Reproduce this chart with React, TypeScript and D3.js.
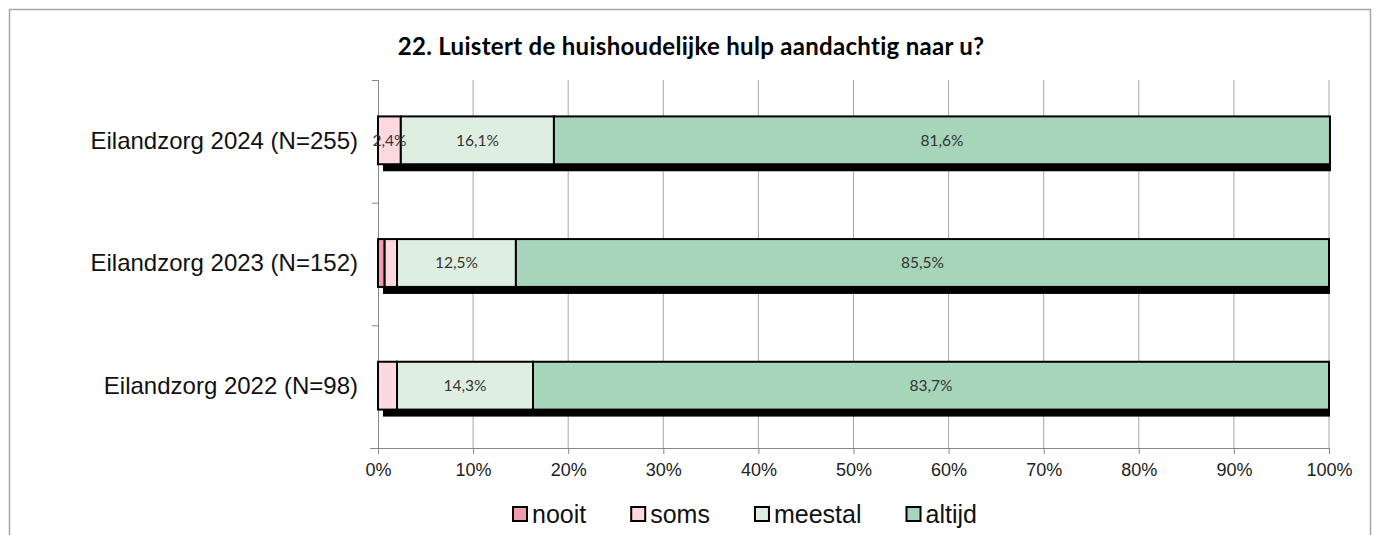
import * as d3 from "d3"
import { useEffect, useRef } from "react"

const categories = [
  "Eilandzorg 2024 (N=255)",
  "Eilandzorg 2023 (N=152)",
  "Eilandzorg 2022 (N=98)",
]
const seriesNames = ["nooit", "soms", "meestal", "altijd"]
const nooit = [0, 0.7, 0]
const soms = [2.4, 1.3, 2.0]
const meestal = [16.1, 12.5, 14.3]
const altijd = [81.6, 85.5, 83.7]
const tickValues = [0, 10, 20, 30, 40, 50, 60, 70, 80, 90, 100]
const colors = ["#F29BAE", "#FDD8DD", "#DEEFE2", "#A6D5B9"]

const W = 1377
const H = 535

const App: React.FC = () => {
  const svgRef = useRef<SVGSVGElement | null>(null)

  useEffect(() => {
    if (!svgRef.current) return
    const svg = d3.select(svgRef.current)
    svg.selectAll("*").remove()

    const calibri = "Lato, 'Open Sans', sans-serif"
    const arial = "'Liberation Sans', Arial, sans-serif"

    // chart frame
    svg
      .append("rect")
      .attr("x", 9.5)
      .attr("y", 9.5)
      .attr("width", 1361)
      .attr("height", 540)
      .attr("fill", "#fff")
      .attr("stroke", "#A6A6A6")
      .attr("stroke-width", 1.5)

    svg
      .append("text")
      .attr("x", 691)
      .attr("y", 55)
      .attr("text-anchor", "middle")
      .style("font", `bold 24px ${calibri}`)
      .style("letter-spacing", "0.3px")
      .attr("fill", "#000")
      .text("22. Luistert de huishoudelijke hulp aandachtig naar u?")

    const left = 378
    const right = 1329
    const top = 80
    const bottom = 448

    const x = d3.scaleLinear().domain([0, 100]).range([left, right])
    const y = d3
      .scaleBand()
      .domain(categories)
      .range([top, bottom])
      .paddingInner(0.61)
      .paddingOuter(0.305)

    // vertical gridlines
    svg
      .append("g")
      .selectAll("line")
      .data(tickValues.slice(1))
      .enter()
      .append("line")
      .attr("x1", (d) => x(d))
      .attr("x2", (d) => x(d))
      .attr("y1", top)
      .attr("y2", bottom)
      .attr("stroke", "#A6A6A6")
      .attr("stroke-width", 1)

    // x axis
    const xAxis = d3
      .axisBottom(x)
      .tickValues(tickValues)
      .tickSize(6)
      .tickPadding(9)
      .tickFormat((d) => `${d}%`)
    const gx = svg
      .append("g")
      .attr("transform", `translate(0,${bottom})`)
      .call(xAxis)
    gx.select(".domain").attr("stroke", "#888").attr("d", `M${left - 8},0.5H${right}`)
    gx.selectAll(".tick line").attr("stroke", "#888")
    gx.selectAll(".tick text")
      .style("font", `18px ${arial}`)
      .attr("fill", "#222")

    // y axis with ticks at category boundaries
    const gy = svg.append("g")
    gy.append("line")
      .attr("x1", left + 0.5)
      .attr("x2", left + 0.5)
      .attr("y1", top)
      .attr("y2", bottom + 6)
      .attr("stroke", "#888")
    const step = y.step()
    gy.selectAll(".ytick")
      .data(d3.range(categories.length + 1))
      .enter()
      .append("line")
      .attr("x1", left - 6)
      .attr("x2", left)
      .attr("y1", (i) => top + i * step + 0.5)
      .attr("y2", (i) => top + i * step + 0.5)
      .attr("stroke", "#888")
    gy.selectAll(".ylabel")
      .data(categories)
      .enter()
      .append("text")
      .attr("x", left - 20)
      .attr("y", (d) => y(d)! + y.bandwidth() / 2 - 1)
      .attr("dy", "0.35em")
      .attr("text-anchor", "end")
      .style("font", `24px ${arial}`)
      .attr("fill", "#111")
      .text((d) => d)

    // stacked data
    const rows = categories.map((c, i) => ({
      category: c,
      nooit: nooit[i],
      soms: soms[i],
      meestal: meestal[i],
      altijd: altijd[i],
    }))
    const stack = d3.stack<any>().keys(seriesNames)(rows)
    const bh = y.bandwidth()
    const off = -1

    // shadows
    svg
      .append("g")
      .selectAll("rect")
      .data(rows)
      .enter()
      .append("rect")
      .attr("x", () => x(0) + 5)
      .attr("y", (d) => y(d.category)! + off + 7)
      .attr("width", (d) => x(d.nooit + d.soms + d.meestal + d.altijd) - x(0) - 4)
      .attr("height", bh)
      .attr("fill", "#000")

    const segs = svg.append("g")
    stack.forEach((s, si) => {
      segs
        .append("g")
        .selectAll("rect")
        .data(s.filter((d) => d[1] - d[0] > 0))
        .enter()
        .append("rect")
        .attr("x", (d) => x(d[0]))
        .attr("y", (d) => y(d.data.category)! + off)
        .attr("width", (d) => x(d[1]) - x(d[0]))
        .attr("height", bh)
        .attr("fill", colors[si])
        .attr("stroke", "#000")
        .attr("stroke-width", 2)
    })

    // value labels
    stack.forEach((s) => {
      segs
        .append("g")
        .selectAll("text")
        .data(s.filter((d) => d[1] - d[0] >= 2.3))
        .enter()
        .append("text")
        .attr("x", (d) => (x(d[0]) + x(d[1])) / 2)
        .attr("y", (d) => y(d.data.category)! + off + bh / 2)
        .attr("dy", "0.35em")
        .attr("text-anchor", "middle")
        .style("font", `15.5px ${calibri}`)
        .attr("fill", "#333")
        .text((d) => `${d3.format(".1f")(d[1] - d[0]).replace(".", ",")}%`)
    })

    // legend
    const legend = svg.append("g").attr("transform", "translate(0,514)")
    let lx = 512
    seriesNames.forEach((name, i) => {
      legend
        .append("rect")
        .attr("x", lx + 1)
        .attr("y", -7)
        .attr("width", 14)
        .attr("height", 14)
        .attr("fill", colors[i])
        .attr("stroke", "#000")
        .attr("stroke-width", 2)
      const t = legend
        .append("text")
        .attr("x", lx + 20)
        .attr("y", 0)
        .attr("dy", "0.35em")
        .style("font", `25px ${arial}`)
        .attr("fill", "#111")
        .text(name)
      const w = (t.node() as SVGTextElement).getComputedTextLength()
      lx += 20 + w + 44
    })
  }, [])

  return (
    <svg
      ref={svgRef}
      width={W}
      height={H}
      style={{ position: "absolute", left: 0, top: 0, background: "#fff" }}
    />
  )
}

export default App
